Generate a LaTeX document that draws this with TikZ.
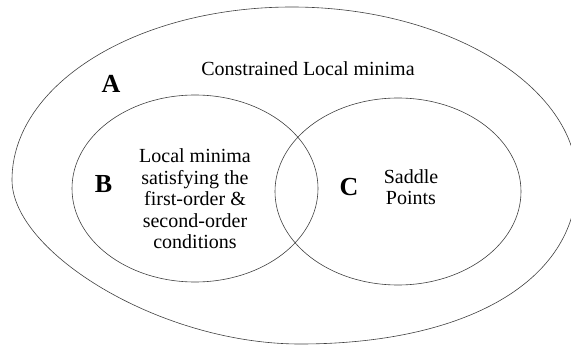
\documentclass[tikz,border=0pt]{standalone}
\usepackage{fontspec}
\setmainfont{Liberation Serif}
\begin{document}
\begin{tikzpicture}[x=1pt,y=-1pt,
  setline/.style={draw=black!75, line width=0.6pt},
  settext/.style={font=\fontsize{20}{21.5}\selectfont, align=center, inner sep=0pt},
  setname/.style={font=\fontsize{26}{26}\selectfont\bfseries, inner sep=0pt, anchor=base}]
\useasboundingbox (0,0) rectangle (571,345);

% outer set A, a hand-drawn oval slightly fuller to the lower right
\draw[setline] (12,180) .. controls (12,84) and (137,7) .. (292,7)
  .. controls (447,7) and (577,86) .. (577,180)
  .. controls (577,282) and (465,344) .. (300,344)
  .. controls (160,344) and (12,252) .. (12,180) -- cycle;

% the two overlapping inner sets B and C
\draw[setline] (195,188.5) ellipse [x radius=123, y radius=93.5];
\draw[setline] (398,191.5) ellipse [x radius=123, y radius=93.5];

% set names
\node[setname] (nameA) at (111,93) {A};
\node[setname] (nameB) at (103.5,193) {B};
\node[setname] (nameC) at (349,195) {C};

% descriptions
\node[settext, anchor=base] (descA) at (308,76) {Constrained Local minima};
\node[settext] (descB) at (195,199) {Local minima\\satisfying the\\first-order \&\\second-order\\conditions};
\node[settext] (descC) at (411,187) {Saddle\\Points};
\end{tikzpicture}
\end{document}
